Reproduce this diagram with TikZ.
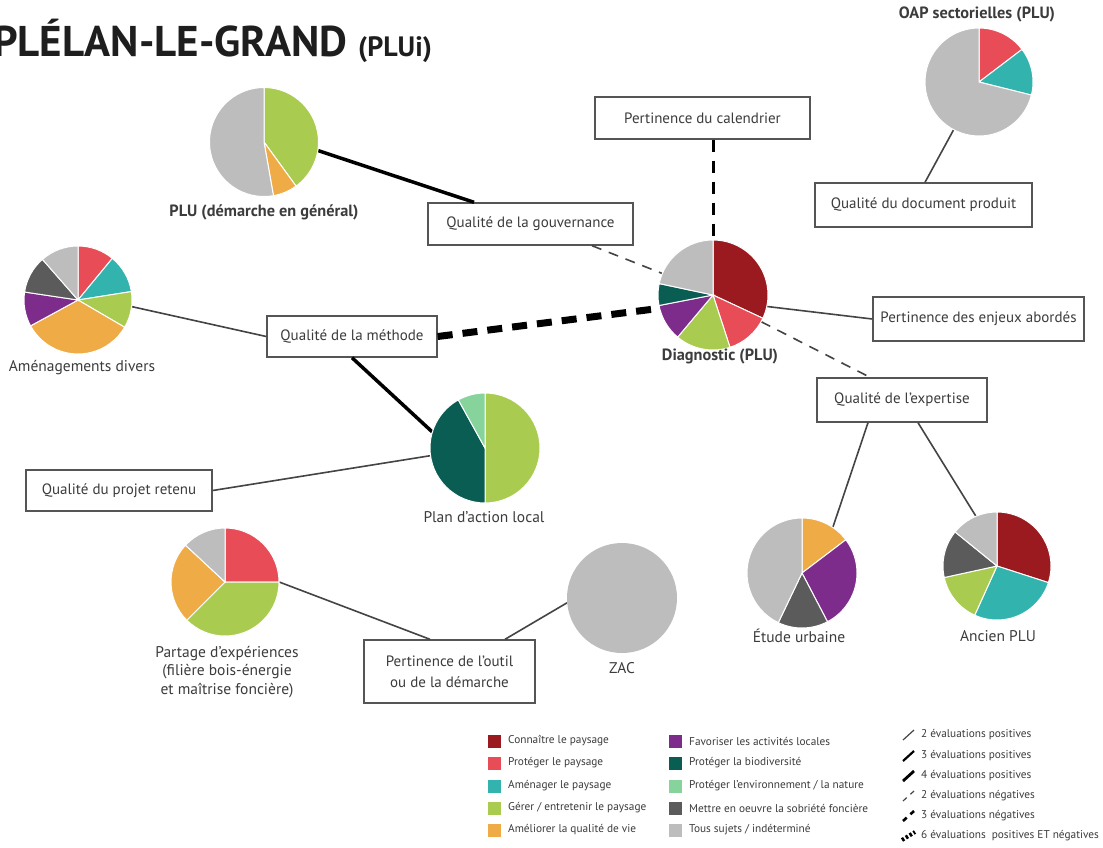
\documentclass[tikz,border=0pt]{standalone}
\usepackage{fontspec}
\setmainfont{PT Sans}
\definecolor{cRed}{HTML}{9A1A1F}
\definecolor{cPink}{HTML}{E84C57}
\definecolor{cTeal}{HTML}{33B3AE}
\definecolor{cLime}{HTML}{A9CC50}
\definecolor{cOrange}{HTML}{EFAB46}
\definecolor{cPurple}{HTML}{7D2C8C}
\definecolor{cDTeal}{HTML}{0A5D53}
\definecolor{cMint}{HTML}{86D39C}
\definecolor{cDGray}{HTML}{5B5B5B}
\definecolor{cLGray}{HTML}{BDBDBD}
\definecolor{txt}{HTML}{3C3C3C}
\definecolor{boxc}{HTML}{555555}
\definecolor{linec}{HTML}{444444}
\definecolor{ttl}{HTML}{1E1E1E}
\newcommand{\pieslice}[5]{\fill[#5, draw=white, line width=1pt] (#1.center) -- ++({#3-90}:#2) arc[start angle={#3-90}, end angle={#4-90}, radius=#2] -- cycle;}
\begin{document}
\begin{tikzpicture}[x=1pt,y=-1pt,
  box/.style={draw=boxc, line width=1.4pt, fill=white, inner sep=0pt, text=txt, font=\fontsize{15}{21}\selectfont, align=center},
  piec/.style={circle, inner sep=0pt, minimum size=#1},
  lab/.style={text=txt, font=\fontsize{15.5}{18.5}\selectfont, align=center, inner sep=0pt},
  blab/.style={text=txt, font=\bfseries\fontsize{16.3}{18}\selectfont, align=center, inner sep=0pt},
  pos2/.style={line width=1.6pt, draw=linec},
  pos3/.style={line width=3.5pt, draw=black},
  neg2/.style={line width=1.6pt, draw=linec, dash pattern=on 10pt off 8pt},
  neg3/.style={line width=3pt, draw=black, dash pattern=on 12pt off 9pt},
  mix6/.style={line width=7pt, draw=black, dash pattern=on 15pt off 10pt},
  leg/.style={text=txt, font=\fontsize{11.3}{13}\selectfont, anchor=west, inner sep=0pt},
  sq/.style={minimum size=13pt, inner sep=0pt},
]
\useasboundingbox (0,0) rectangle (1103,847);
\fill[white] (0,0) rectangle (1103,847);

% title
\node[anchor=base west, inner sep=0pt, text=ttl, font=\bfseries\fontsize{43}{43}\selectfont] (title) at (-7,56) {PLÉLAN-LE-GRAND {\fontsize{28}{28}\selectfont(PLUi)}};

% pie placeholders
\node[piec=110pt] (diag) at (713,295) {};
\node[piec=108pt] (amen) at (78,300) {};
\node[piec=109pt] (plu) at (264,142) {};
\node[piec=108pt] (oap) at (979,82) {};
\node[piec=110pt] (plan) at (485,448) {};
\node[piec=108pt] (part) at (225,582) {};
\node[piec=110pt] (zac) at (622,598) {};
\node[piec=110pt] (etude) at (802,573) {};
\node[piec=108pt] (ancien) at (997,566) {};

% boxes
\node[box, minimum width=215pt, minimum height=42pt] (cal) at (702.5,118) {Pertinence du calendrier};
\node[box, minimum width=205pt, minimum height=42pt] (gouv) at (530.5,224) {Qualité de la gouvernance};
\node[box, minimum width=217pt, minimum height=44pt] (doc) at (923.5,205) {Qualité du document produit};
\node[box, minimum width=170pt, minimum height=41pt] (meth) at (352,336.5) {Qualité de la méthode};
\node[box, minimum width=211pt, minimum height=44pt] (enj) at (978.5,319) {Pertinence des enjeux abordés};
\node[box, minimum width=170pt, minimum height=44pt] (expe) at (902,400) {Qualité de l'expertise};
\node[box, minimum width=186pt, minimum height=41pt] (proj) at (119,490.5) {Qualité du projet retenu};
\node[box, minimum width=171pt, minimum height=63pt] (outil) at (449.5,671.5) {Pertinence de l'outil\\ou de la démarche};

% connectors
\draw[pos3] (plu.-9.5) -- ([xshift=-56.5pt]gouv.north);
\draw[neg3] ([xshift=10.5pt]cal.south) -- (diag.north);
\draw[neg2] ([xshift=61.5pt]gouv.south) -- (diag.157.5);
\draw[mix6] (meth.east) -- (diag.194.8);
\draw[pos2] (amen.-7.4) -- (meth.west);
\draw[pos3] (meth.south) -- (plan.163.8);
\draw[pos2] (proj.east) -- (plan.188.3);
\draw[pos2] (diag.-12.3) -- (enj.west);
\draw[neg2] (diag.-29.9) -- ([xshift=-32pt]expe.north);
\draw[pos2] (oap.242.2) -- ([xshift=1.5pt]doc.north);
\draw[pos2] ([xshift=-34pt]expe.south) -- (etude.56);
\draw[pos2] ([xshift=16pt]expe.south) -- (ancien.113.9);
\draw[pos2] (part.east) -- ([xshift=-19.5pt]outil.north);
\draw[pos2] (zac.185.4) -- ([xshift=55.5pt]outil.north);

% pies
\pieslice{diag}{55}{0}{115}{cRed}
\pieslice{diag}{55}{115}{162}{cPink}
\pieslice{diag}{55}{162}{220}{cLime}
\pieslice{diag}{55}{220}{259}{cPurple}
\pieslice{diag}{55}{259}{282}{cDTeal}
\pieslice{diag}{55}{282}{360}{cLGray}

\pieslice{amen}{54}{0}{39.5}{cPink}
\pieslice{amen}{54}{39.5}{81}{cTeal}
\pieslice{amen}{54}{81}{120.3}{cLime}
\pieslice{amen}{54}{120.3}{241.4}{cOrange}
\pieslice{amen}{54}{241.4}{278.5}{cPurple}
\pieslice{amen}{54}{278.5}{318.8}{cDGray}
\pieslice{amen}{54}{318.8}{360}{cLGray}

\pieslice{plu}{54.5}{0}{144}{cLime}
\pieslice{plu}{54.5}{144}{170}{cOrange}
\pieslice{plu}{54.5}{170}{360}{cLGray}

\pieslice{oap}{54}{0}{52.8}{cPink}
\pieslice{oap}{54}{52.8}{104}{cTeal}
\pieslice{oap}{54}{104}{360}{cLGray}

\pieslice{plan}{55}{0}{180}{cLime}
\pieslice{plan}{55}{180}{331}{cDTeal}
\pieslice{plan}{55}{331}{360}{cMint}

\pieslice{part}{54}{0}{90}{cPink}
\pieslice{part}{54}{90}{225}{cLime}
\pieslice{part}{54}{225}{313}{cOrange}
\pieslice{part}{54}{313}{360}{cLGray}

\fill[cLGray] (zac) circle[radius=55];

\pieslice{etude}{55}{0}{52.8}{cOrange}
\pieslice{etude}{55}{52.8}{152.4}{cPurple}
\pieslice{etude}{55}{152.4}{205.5}{cDGray}
\pieslice{etude}{55}{205.5}{360}{cLGray}

\pieslice{ancien}{54}{0}{107.9}{cRed}
\pieslice{ancien}{54}{107.9}{204.4}{cTeal}
\pieslice{ancien}{54}{204.4}{257.7}{cLime}
\pieslice{ancien}{54}{257.7}{309.1}{cDGray}
\pieslice{ancien}{54}{309.1}{360}{cLGray}

% pie labels
\node[blab] (tplu) at (264,212) {PLU (démarche en général)};
\node[lab] (tamen) at (82,368) {Aménagements divers};
\node[blab] (tdiag) at (720,356) {Diagnostic (PLU)};
\node[lab] (tplan) at (484,517) {Plan d'action local};
\node[lab] (tpart) at (227,672) {Partage d'expériences\\(filière bois-énergie\\et maîtrise foncière)};
\node[lab] (tzac) at (622,668) {ZAC};
\node[lab] (tetude) at (799,636) {Étude urbaine};
\node[lab] (tancien) at (998,636) {Ancien PLU};
\node[blab] (toap) at (977,14) {OAP sectorielles (PLU)};

% legend column 1
\node[sq, fill=cRed] (s1) at (494,741) {};
\node[leg] (l1) at (508,741) {Connaître le paysage};
\node[sq, fill=cPink] (s2) at (494,763) {};
\node[leg] (l2) at (508,763) {Protéger le paysage};
\node[sq, fill=cTeal] (s3) at (494,786) {};
\node[leg] (l3) at (508,786) {Aménager le paysage};
\node[sq, fill=cLime] (s4) at (494,808) {};
\node[leg] (l4) at (508,808) {Gérer / entretenir le paysage};
\node[sq, fill=cOrange] (s5) at (494,830) {};
\node[leg] (l5) at (508,830) {Améliorer la qualité de vie};
% legend column 2
\node[sq, fill=cPurple] (s6) at (675,741) {};
\node[leg] (l6) at (689,741) {Favoriser les activités locales};
\node[sq, fill=cDTeal] (s7) at (675,763) {};
\node[leg] (l7) at (689,763) {Protéger la biodiversité};
\node[sq, fill=cMint] (s8) at (675,786) {};
\node[leg] (l8) at (689,786) {Protéger l'environnement / la nature};
\node[sq, fill=cDGray] (s9) at (675,808) {};
\node[leg] (l9) at (689,808) {Mettre en oeuvre la sobriété foncière};
\node[sq, fill=cLGray] (s10) at (675,830) {};
\node[leg] (l10) at (689,830) {Tous sujets / indéterminé};
% legend column 3
\coordinate (a1) at (903,740); \coordinate (b1) at (914,730);
\draw[line width=1.2pt, draw=linec] (a1) -- (b1);
\node[leg] (m1) at (921,735) {2 évaluations positives};
\coordinate (a2) at (903,761); \coordinate (b2) at (914,751);
\draw[line width=2.2pt, draw=black] (a2) -- (b2);
\node[leg] (m2) at (921,756) {3 évaluations positives};
\coordinate (a3) at (903,781); \coordinate (b3) at (914,771);
\draw[line width=2.8pt, draw=black] (a3) -- (b3);
\node[leg] (m3) at (921,776) {4 évaluations positives};
\coordinate (a4) at (903,801); \coordinate (b4) at (914,791);
\draw[line width=1.2pt, draw=linec, dash pattern=on 5pt off 5pt] (a4) -- (b4);
\node[leg] (m4) at (921,796) {2 évaluations négatives};
\coordinate (a5) at (903,821); \coordinate (b5) at (914,811);
\draw[line width=2.6pt, draw=black, dash pattern=on 5pt off 5pt] (a5) -- (b5);
\node[leg] (m5) at (921,816) {3 évaluations négatives};
\coordinate (a6) at (902,840); \coordinate (b6) at (915,832);
\draw[line width=4pt, draw=black, dash pattern=on 2.5pt off 2pt] (a6) -- (b6);
\node[leg] (m6) at (921,836) {6 évaluations\ \ positives ET négatives};
\end{tikzpicture}
\end{document}
